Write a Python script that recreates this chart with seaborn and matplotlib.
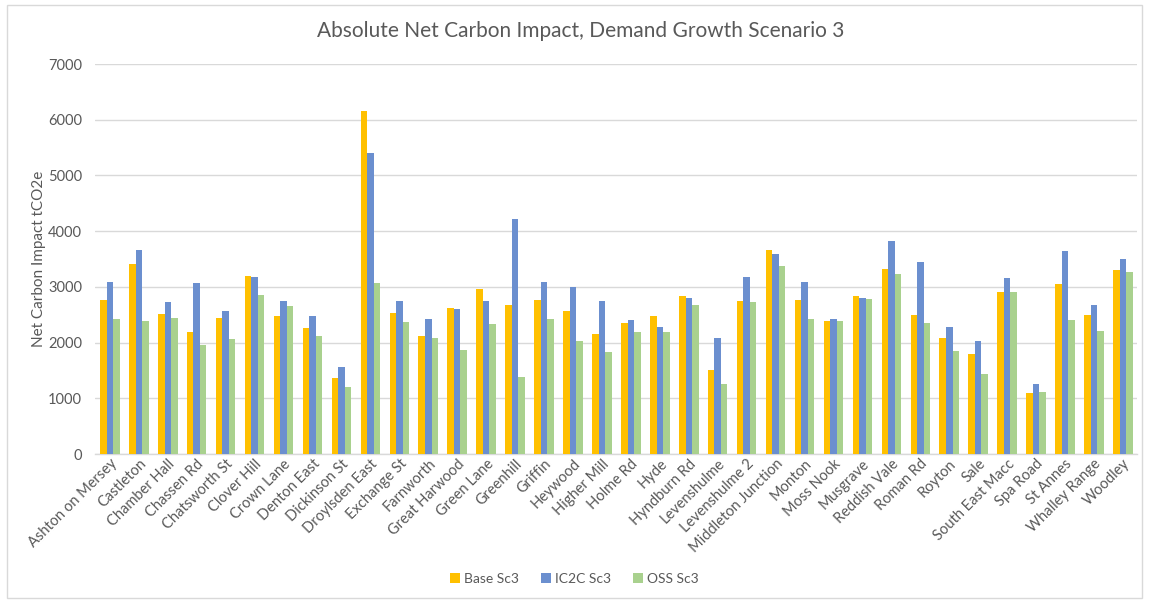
import matplotlib
matplotlib.use("Agg")
import matplotlib.pyplot as plt
import seaborn as sns
import pandas as pd
from matplotlib.patches import Rectangle

# Substations and their net carbon impact (tCO2e) per scenario
sites = [
    "Ashton on Mersey", "Castleton", "Chamber Hall", "Chassen Rd", "Chatsworth St",
    "Clover Hill", "Crown Lane", "Denton East", "Dickinson St", "Droylsden East",
    "Exchange St", "Farnworth", "Great Harwood", "Green Lane", "Greenhill",
    "Griffin", "Heywood", "Higher Mill", "Holme Rd", "Hyde", "Hyndburn Rd",
    "Levenshulme", "Levenshulme 2", "Middleton Junction", "Monton", "Moss Nook",
    "Musgrave", "Reddish Vale", "Roman Rd", "Royton", "Sale", "South East Macc",
    "Spa Road", "St Annes", "Whalley Range", "Woodley",
]
base_sc3 = [
    2770, 3413, 2515, 2186, 2449, 3198, 2479, 2269, 1359, 6156,
    2533, 2120, 2629, 2970, 2671, 2766, 2569, 2156, 2353, 2479,
    2832, 1509, 2749, 3659, 2766, 2383, 2844, 3317, 2491, 2090,
    1790, 2916, 1096, 3060, 2500, 3300,
]
ic2c_sc3 = [
    3084, 3665, 2731, 3072, 2575, 3180, 2749, 2479, 1563, 5401,
    2749, 2419, 2611, 2749, 4216, 3084, 3000, 2743, 2407, 2281,
    2802, 2090, 3180, 3593, 3084, 2419, 2802, 3826, 3443, 2281,
    2024, 3162, 1251, 3635, 2671, 3497,
]
oss_sc3 = [
    2425, 2395, 2449, 1952, 2066, 2850, 2659, 2120, 1198, 3072,
    2365, 2090, 1868, 2335, 1389, 2419, 2036, 1826, 2186, 2186,
    2671, 1263, 2731, 3377, 2419, 2389, 2790, 3234, 2353, 1844,
    1431, 2916, 1108, 2407, 2200, 3269,
]
series_names = ["Base Sc3", "IC2C Sc3", "OSS Sc3"]
colors = ["#FFC000", "#6B8FCF", "#A9D18E"]

df = pd.DataFrame({
    "site": sites * 3,
    "series": [series_names[0]] * len(sites) + [series_names[1]] * len(sites) + [series_names[2]] * len(sites),
    "value": base_sc3 + ic2c_sc3 + oss_sc3,
})

sns.set_theme(style="white")
plt.rcParams["font.family"] = ["Lato", "DejaVu Sans"]
text_grey = "#595959"

fig = plt.figure(figsize=(11.49, 6.03), dpi=100)
ax = fig.add_axes([95.4 / 1149, 149 / 603, 1042 / 1149, 390 / 603])

sns.barplot(
    data=df, x="site", y="value", hue="series", order=sites,
    hue_order=series_names, palette=colors, width=0.675, gap=0,
    saturation=1, errorbar=None, ax=ax, linewidth=0, zorder=3,
)

ax.set_ylim(0, 7000)
ax.set_yticks(range(0, 7001, 1000))
ax.set_xlim(-0.5, len(sites) - 0.5)
ax.yaxis.grid(True, color="#D9D9D9", linewidth=1, zorder=0)
ax.set_axisbelow(True)
for side in ["top", "right", "left"]:
    ax.spines[side].set_visible(False)
ax.spines["bottom"].set_color("#D9D9D9")
ax.spines["bottom"].set_linewidth(1)
ax.tick_params(axis="both", length=0, colors=text_grey, labelsize=10.5)
ax.tick_params(axis="y", pad=9.5)
ax.tick_params(axis="x", pad=2)
plt.setp(ax.get_xticklabels(), rotation=45, ha="right", rotation_mode="anchor")

ax.set_xlabel("")
ax.set_ylabel("Net Carbon Impact tCO2e", color=text_grey, fontsize=11)
ax.yaxis.set_label_coords(-0.047, 0.5)

fig.suptitle("Absolute Net Carbon Impact, Demand Growth Scenario 3",
             x=0.505, y=0.965, fontsize=15, color=text_grey)

handles, labels = ax.get_legend_handles_labels()
ax.legend_.remove()
fig.legend(handles, labels, loc="center", bbox_to_anchor=(0.5, 0.04), ncol=3,
           frameon=False, fontsize=10, handlelength=0.7, handleheight=0.7,
           handletextpad=0.3, columnspacing=1.6, labelcolor=text_grey)

# Light frame around the chart area
fig.patches.append(Rectangle((7 / 1149, 5 / 603), 1135 / 1149, 593 / 603,
                             transform=fig.transFigure, fill=False,
                             edgecolor="#D9D9D9", linewidth=1))

fig.savefig("out.png", dpi=100)
